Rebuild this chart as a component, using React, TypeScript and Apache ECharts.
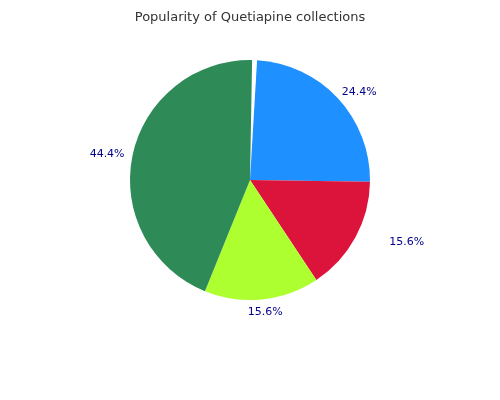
import * as echarts from "echarts";
import { useEffect, useRef } from "react";

// 조각 순서: 위쪽 빈 틈부터 시계 방향
const names = ["", "A", "B", "C", "D"];
const values = [0.3, 11, 7, 7, 20];
const colors = ["#ffffff", "#1e90ff", "#dc143c", "#adff2f", "#2e8b57"];
const title = "Popularity of Quetiapine collections";

export default function App() {
  const box = useRef<HTMLDivElement>(null);

  useEffect(() => {
    if (!box.current) return;
    const c = echarts.init(box.current, undefined, { renderer: "svg" });
    // 퍼센트는 틈 조각을 뺀 네 값의 합 기준
    const total = values.slice(1).reduce((a, b) => a + b, 0);
    // 라벨 위치 미세 조정 (원본은 ECharts 기본 바깥 라벨과 자리가 조금 다르다)
    const nudge: Record<number, [number, number]> = { 1: [-11, -1], 2: [18, 0], 3: [-24, 4], 4: [9, -1] };
    c.setOption({
      animation: false,
      title: {
        text: title,
        left: "center",
        top: 5,
        textStyle: { fontFamily: "DejaVu Sans", fontSize: 13, fontWeight: "normal", color: "#333" },
      },
      series: [
        {
          type: "pie",
          center: [250, 180],
          radius: [0, 120],
          startAngle: 89,
          clockwise: true,
          data: values.map((v, i) => ({
            name: names[i],
            value: v,
            itemStyle: { color: colors[i] },
            label: { show: i > 0 },
          })),
          label: {
            position: "outside",
            color: "#00008b",
            fontFamily: "DejaVu Sans",
            fontSize: 11,
            formatter: ({ value }: { value: number }) => `${((value / total) * 100).toFixed(1)}%`,
          },
          labelLine: { show: false, length: 8, length2: 4 },
          labelLayout: ({ dataIndex }: { dataIndex: number }) => {
            const n = nudge[dataIndex] ?? [0, 0];
            return { dx: n[0], dy: n[1] };
          },
          emphasis: { disabled: true },
        },
      ],
    });
    return () => c.dispose();
  }, []);

  return <div ref={box} style={{ position: "fixed", left: 0, top: 0, width: 500, height: 400 }} />;
}
